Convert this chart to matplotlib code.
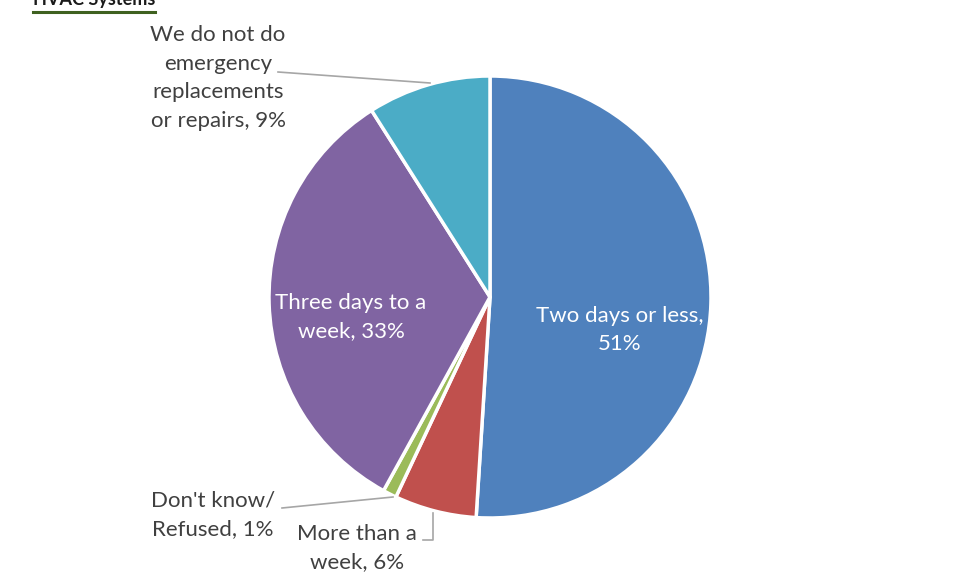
import matplotlib
matplotlib.use("Agg")
import matplotlib.pyplot as plt

categories = ["Two days or less", "More than a week", "Don't know/\nRefused",
              "Three days to a week", "We do not do emergency replacements or repairs"]
values = [51, 6, 1, 33, 9]
colors = ["#4F81BD", "#C0504D", "#9BBB59", "#8064A2", "#4BACC6"]

W, H = 956, 581
fig = plt.figure(figsize=(W/100, H/100), dpi=100)
cx, cy, R = 490, 297, 221
ax = fig.add_axes([(cx-R)/W, (H-cy-R)/H, 2*R/W, 2*R/H])
ax.pie(values, colors=colors, startangle=90, counterclock=False, radius=1,
       wedgeprops=dict(edgecolor="white", linewidth=2.5))
ax.set_xlim(-1, 1)
ax.set_ylim(-1, 1)
ax.set_aspect("equal")
ax.axis("off")

def d(px, py):
    return ((px-cx)/R, (cy-py)/R)

font = "Lato"
fs = 16
ls = 1.55
tc = "#404040"
lc = "#A6A6A6"

ax.text(*d(620, 330), "Two days or less,\n51%", color="white", ha="center", va="center",
        fontsize=fs, family=font, linespacing=ls)
ax.text(*d(351, 317), "Three days to a\nweek, 33%", color="white", ha="center", va="center",
        fontsize=fs, family=font, linespacing=ls)
ax.text(*d(218, 78), "We do not do\nemergency\nreplacements\nor repairs, 9%", color=tc,
        ha="center", va="center", fontsize=fs, family=font, linespacing=ls, clip_on=False)
ax.text(*d(213, 515), "Don't know/\nRefused, 1%", color=tc, ha="center", va="center",
        fontsize=fs, family=font, linespacing=ls, clip_on=False)
ax.text(*d(357, 548), "More than a\nweek, 6%", color=tc, ha="center", va="center",
        fontsize=fs, family=font, linespacing=ls, clip_on=False)

def leader(pts):
    xs, ys = zip(*[d(*p) for p in pts])
    ax.plot(xs, ys, color=lc, lw=1.2, clip_on=False)

leader([(278, 72), (430, 83)])
leader([(282, 508), (393, 497)])
leader([(423, 540), (433, 540), (433, 513)])

fig.text(33/W, 1-5/H, "HVAC Systems", fontsize=13, fontweight="bold", family=font,
         color="#1a1a1a", va="baseline", ha="left")
fig.add_artist(plt.Line2D([33/W, 155/W], [1-12/H, 1-12/H], color="#3F6120", lw=2.2))

fig.savefig("out.png", dpi=100)
